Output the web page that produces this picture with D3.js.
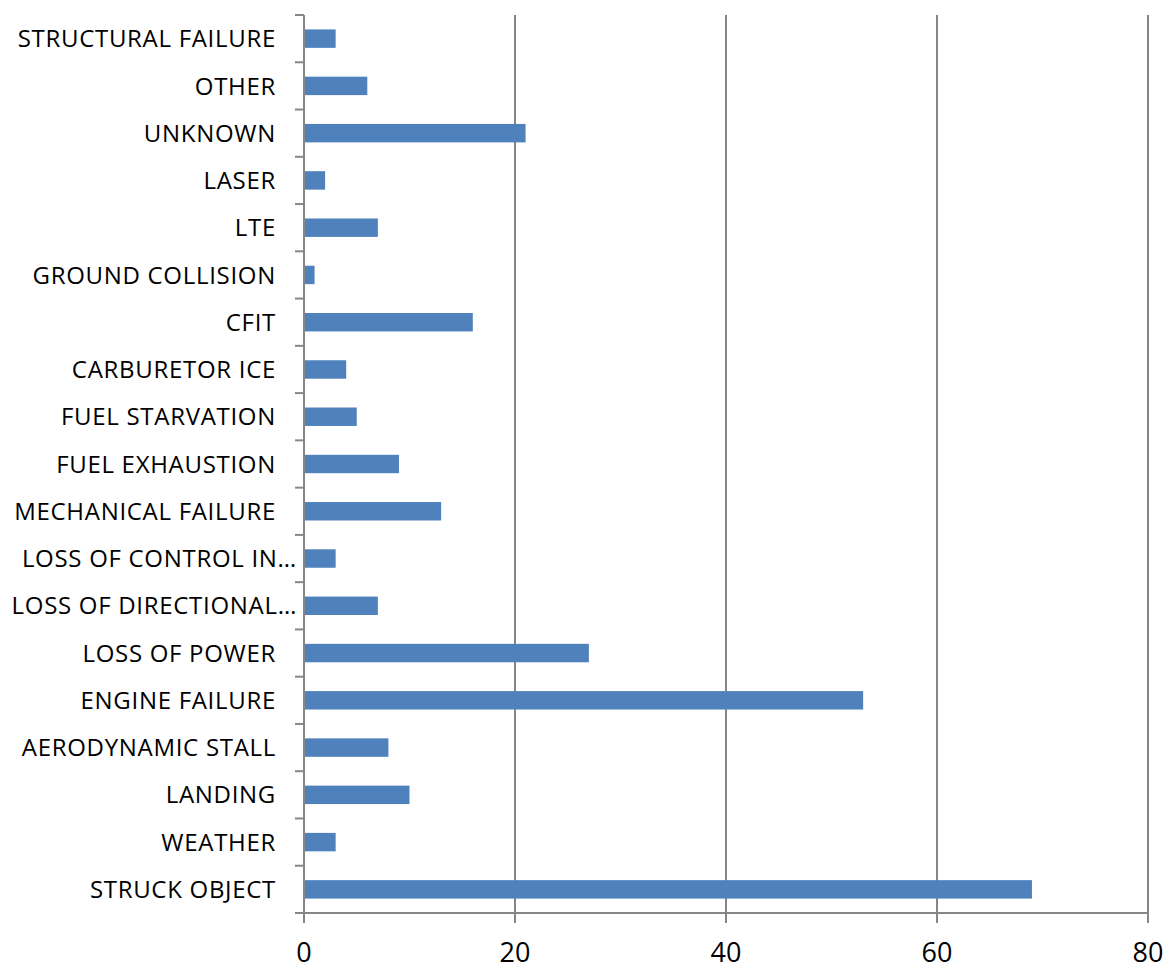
<!DOCTYPE html>
<html><head><meta charset="utf-8">
<script src="https://cdn.jsdelivr.net/npm/d3@7"></script>
<style>body{margin:0;background:#fff;} svg{display:block;}</style>
</head><body>
<svg id="c" width="1167" height="966"></svg>
<script>
const categories = ["STRUCTURAL FAILURE","OTHER","UNKNOWN","LASER","LTE","GROUND COLLISION","CFIT","CARBURETOR ICE","FUEL STARVATION","FUEL EXHAUSTION","MECHANICAL FAILURE","LOSS OF CONTROL IN\u2026","LOSS OF DIRECTIONAL\u2026","LOSS OF POWER","ENGINE FAILURE","AERODYNAMIC STALL","LANDING","WEATHER","STRUCK OBJECT"];
const values = [3,6,21,2,7,1,16,4,5,9,13,3,7,27,53,8,10,3,69];
const xTicks = [0,20,40,60,80];

(function(){
const svg = d3.select("#c");
const L = 304, R = 1148, T = 15, B = 913;
const x = d3.scaleLinear().domain([0,80]).range([L,R]);
const y = d3.scaleBand().domain(categories).range([T,B]).paddingInner(0.61).paddingOuter(0.305);
const font = "'Open Sans', sans-serif";
const grey = "#868686";

svg.append("g").selectAll("line").data(xTicks.filter(d=>d>0)).join("line")
  .attr("x1",d=>x(d)).attr("x2",d=>x(d)).attr("y1",T).attr("y2",B)
  .attr("stroke",grey).attr("stroke-width",2);

svg.append("g").selectAll("rect").data(categories).join("rect")
  .attr("x",x(0)+1).attr("y",d=>y(d))
  .attr("width",(d,i)=>x(values[i])-x(0)-1).attr("height",y.bandwidth())
  .attr("fill","#4F81BD");

const yb = d3.scaleLinear().domain([0,categories.length]).range([T,B]);
svg.append("line").attr("x1",L).attr("x2",L).attr("y1",T).attr("y2",B).attr("stroke",grey).attr("stroke-width",2);
svg.append("g").selectAll("line").data(d3.range(categories.length+1)).join("line")
  .attr("x1",L-9).attr("x2",L).attr("y1",d=>yb(d)).attr("y2",d=>yb(d))
  .attr("stroke",grey).attr("stroke-width",2);
svg.append("g").selectAll("text").data(categories).join("text")
  .attr("x",d=>d.endsWith("\u2026") ? 297 : 276)
  .attr("y",d=>y(d)+y.bandwidth()/2).attr("dy","0.36em")
  .attr("text-anchor","end").attr("font-family",font).attr("font-size",24)
  .attr("letter-spacing","0.7px").attr("fill","#000")
  .text(d=>d);

svg.append("line").attr("x1",L).attr("x2",R).attr("y1",B).attr("y2",B).attr("stroke",grey).attr("stroke-width",2);
svg.append("g").selectAll("line").data(xTicks).join("line")
  .attr("x1",d=>x(d)).attr("x2",d=>x(d)).attr("y1",B).attr("y2",B+10)
  .attr("stroke",grey).attr("stroke-width",2);
svg.append("g").selectAll("text").data(xTicks).join("text")
  .attr("x",d=>x(d)).attr("y",962).attr("text-anchor","middle")
  .attr("font-family",font).attr("font-size",27).attr("fill","#000").text(d=>d);
})();
</script>
</body></html>
